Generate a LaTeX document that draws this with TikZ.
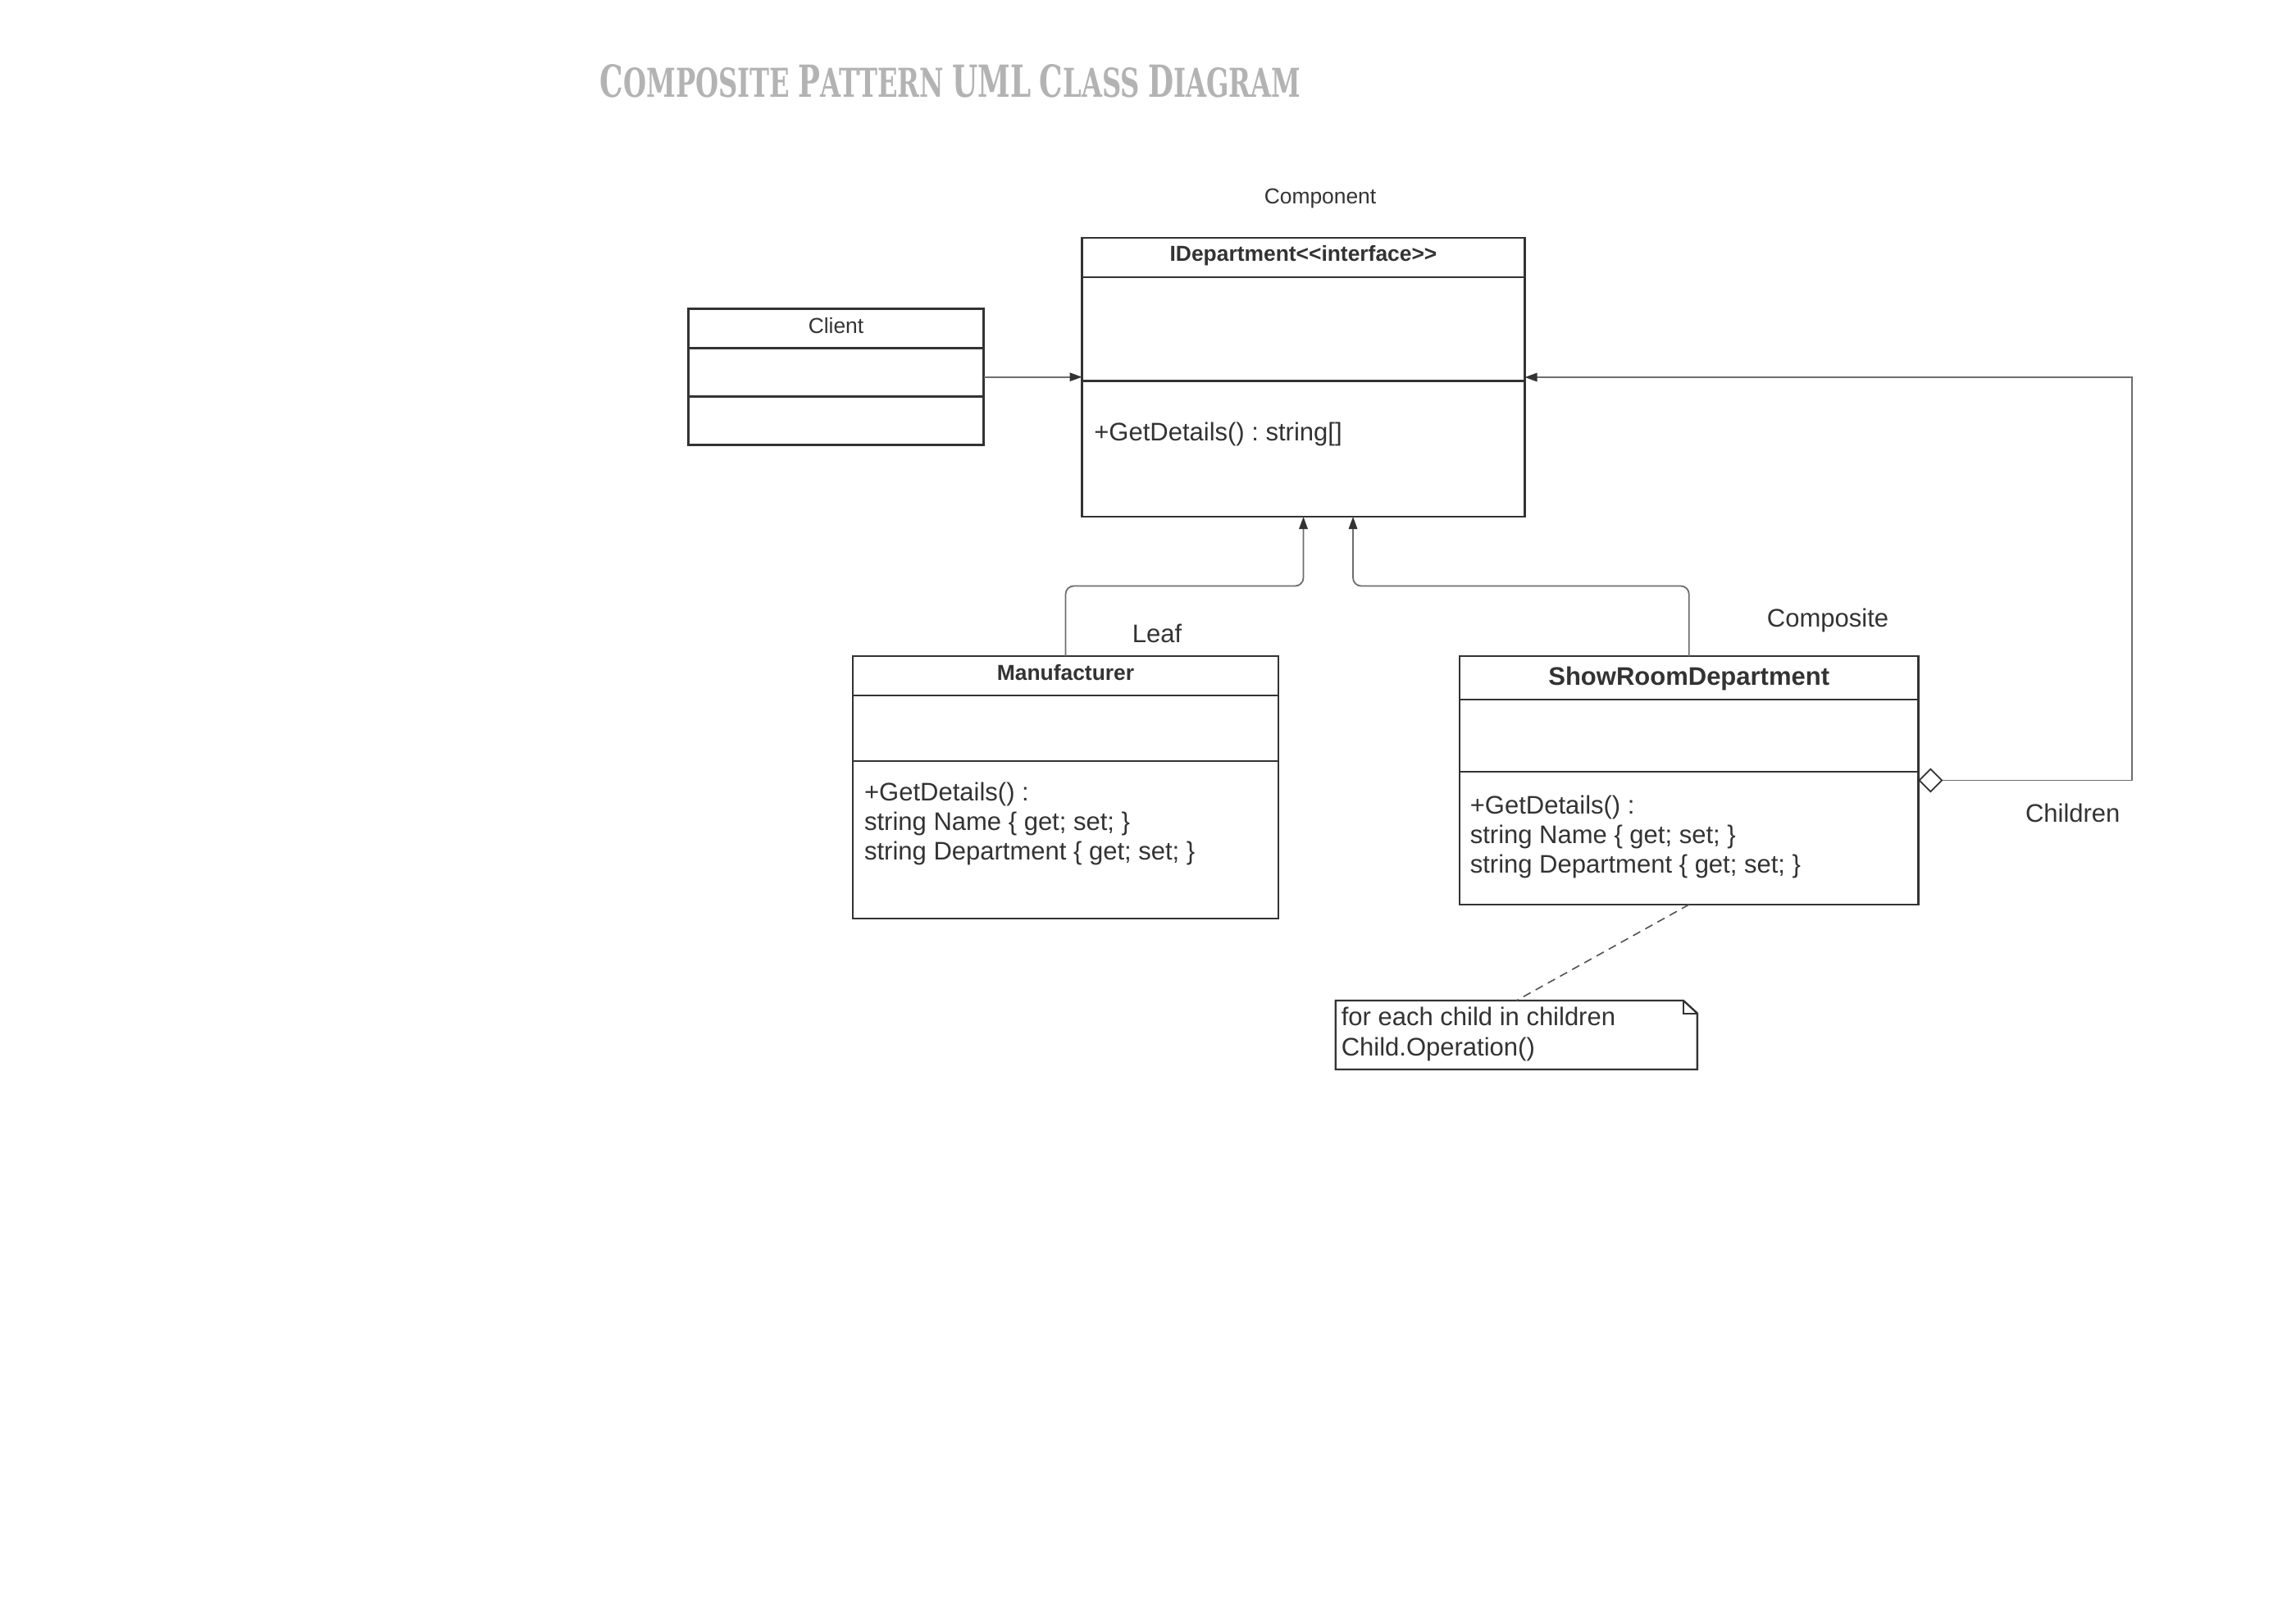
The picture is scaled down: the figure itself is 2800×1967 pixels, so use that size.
\documentclass[tikz,border=0pt]{standalone}
\usepackage{fontspec}
\setmainfont{Liberation Sans}
\newfontfamily\titlefont{DejaVu Serif}
\usetikzlibrary{arrows.meta}
\definecolor{ink}{HTML}{333333}
\definecolor{conncol}{HTML}{6E6E6E}
\definecolor{titlegray}{HTML}{B3B3B3}
\newcommand\ttlB[1]{{\fontsize{12pt}{12pt}\selectfont #1}}
\newcommand\ttlS[1]{{\fontsize{10.8pt}{12pt}\selectfont #1}}
\frenchspacing
\begin{document}
\begin{tikzpicture}[x=0.25pt,y=-0.25pt,
  classbox/.style={draw=ink, line width=0.7pt, rectangle, inner sep=0pt, outer sep=0pt, anchor=north west},
  divider/.style={draw=ink, line width=0.7pt},
  bodytxt/.style={font=\fontsize{7.75pt}{9pt}\selectfont\frenchspacing, text=ink, inner sep=0pt, anchor=base west},
  smalltxt/.style={font=\fontsize{6.6pt}{8pt}\selectfont, text=ink, inner sep=0pt, anchor=base},
  smallbold/.style={font=\fontsize{6.6pt}{8pt}\selectfont\bfseries, text=ink, inner sep=0pt, anchor=base},
  bigbold/.style={font=\fontsize{7.75pt}{9pt}\selectfont\bfseries, text=ink, inner sep=0pt, anchor=base},
  roletxt/.style={font=\fontsize{7.75pt}{9pt}\selectfont, text=ink, inner sep=0pt, anchor=base},
  conn/.style={draw=conncol, line width=0.45pt},
  gentip/.style={-{Triangle[length=3.75pt,width=2.6pt,color=ink]}},
  notebox/.style={rectangle, inner sep=0pt, outer sep=0pt, anchor=north west}
]
\useasboundingbox[fill=white] (0,0) rectangle (2800,1967);

% title
\node[anchor=base west, inner sep=0pt, text=titlegray] (title) at (731,118.3)
  {\resizebox{213.6pt}{10pt}{\titlefont\bfseries \ttlB{C}\ttlS{OMPOSITE} \ttlB{P}\ttlS{ATTERN} \ttlB{UML} \ttlB{C}\ttlS{LASS} \ttlB{D}\ttlS{IAGRAM}}};

% IDepartment
\node[classbox, minimum width=135pt, minimum height=85pt] (idep) at (1319.5,290) {};
\draw[divider] (idep.west |- 0,338) -- (idep.east |- 0,338);
\draw[divider] (idep.west |- 0,464.7) -- (idep.east |- 0,464.7);
\node[smallbold] (idephead) at (1589.5,318.3) {IDepartment\textless\kern0pt\textless\kern0pt interface\textgreater\kern0pt\textgreater};
\node[bodytxt] (idepop) at (1333.5,538) {+GetDetails() : string[]};
\node[smalltxt] (complbl) at (1610,248.3) {Component};

% Client
\node[classbox, minimum width=90pt, minimum height=41.5pt] (client) at (839.6,376.7) {};
\draw[divider] (client.west |- 0,424.7) -- (client.east |- 0,424.7);
\draw[divider] (client.west |- 0,483.7) -- (client.east |- 0,483.7);
\node[smalltxt] (clienthead) at (1019.5,407) {Client};

% Manufacturer
\node[classbox, minimum width=129.75pt, minimum height=80pt] (mfr) at (1040,800) {};
\draw[divider] (mfr.west |- 0,848) -- (mfr.east |- 0,848);
\draw[divider] (mfr.west |- 0,928) -- (mfr.east |- 0,928);
\node[smallbold] (mfrhead) at (1299.5,829) {Manufacturer};
\node[bodytxt] (mfrl1) at (1053.3,976.7) {+GetDetails() :};
\node[bodytxt] (mfrl2) at (1053.3,1012.5) {string Name \{ get; set; \}};
\node[bodytxt] (mfrl3) at (1053.3,1048.3) {string Department \{ get; set; \}};

% ShowRoomDepartment
\node[classbox, minimum width=139.85pt, minimum height=75.75pt] (srd) at (1780,800) {};
\draw[divider] (srd.west |- 0,852.9) -- (srd.east |- 0,852.9);
\draw[divider] (srd.west |- 0,941) -- (srd.east |- 0,941);
\node[bigbold] (srdhead) at (2059.7,835) {ShowRoomDepartment};
\node[bodytxt] (srdl1) at (1792,992.7) {+GetDetails() :};
\node[bodytxt] (srdl2) at (1792,1028.7) {string Name \{ get; set; \}};
\node[bodytxt] (srdl3) at (1792,1064.7) {string Department \{ get; set; \}};

% role labels
\node[roletxt] (leaflbl) at (1411,783.3) {Leaf};
\node[roletxt] (complbl2) at (2229,764) {Composite};
\node[roletxt] (childlbl) at (2527.7,1002.7) {Children};

% note
\node[notebox, minimum width=110.3pt, minimum height=21pt] (note) at (1628.7,1220) {};
\draw[draw=ink, line width=0.6pt]
  (note.north west) -- ([xshift=-4.25pt]note.north east) -- ([yshift=-3.9pt]note.north east)
  -- (note.south east) -- (note.south west) -- cycle;
\draw[draw=ink, line width=0.45pt] ([xshift=-4.25pt]note.north east) |- ([yshift=-3.9pt]note.north east);
\node[bodytxt] (notel1) at (1635,1250) {for each child in children};
\node[bodytxt] (notel2) at (1635,1287) {Child.Operation()};

% connectors
\draw[conn, gentip] (client.east) -- (client.east -| idep.west);

\coordinate (jl) at (1589.5,714.5);
\coordinate (jr) at (1650,714.5);
\coordinate (ar) at (1650,630);
\draw[conn, gentip, rounded corners=2.5pt] (mfr.north) |- (jl) -- (idep.south);
\draw[conn, gentip, rounded corners=2.5pt] (srd.north) |- (jr) -- (ar);

\coordinate (rt) at (2600,460);
\draw[conn, {Diamond[open,length=7.5pt,width=7.5pt,color=ink,line width=0.45pt]}-{Triangle[length=3.75pt,width=2.6pt,color=ink]}]
  (srd.east) -| (rt) -- (idep.east);

\draw[draw=ink!85, line width=0.4pt, dash pattern=on 2.5pt off 1.75pt] (srd.south) -- (note.north);
\end{tikzpicture}
\end{document}
